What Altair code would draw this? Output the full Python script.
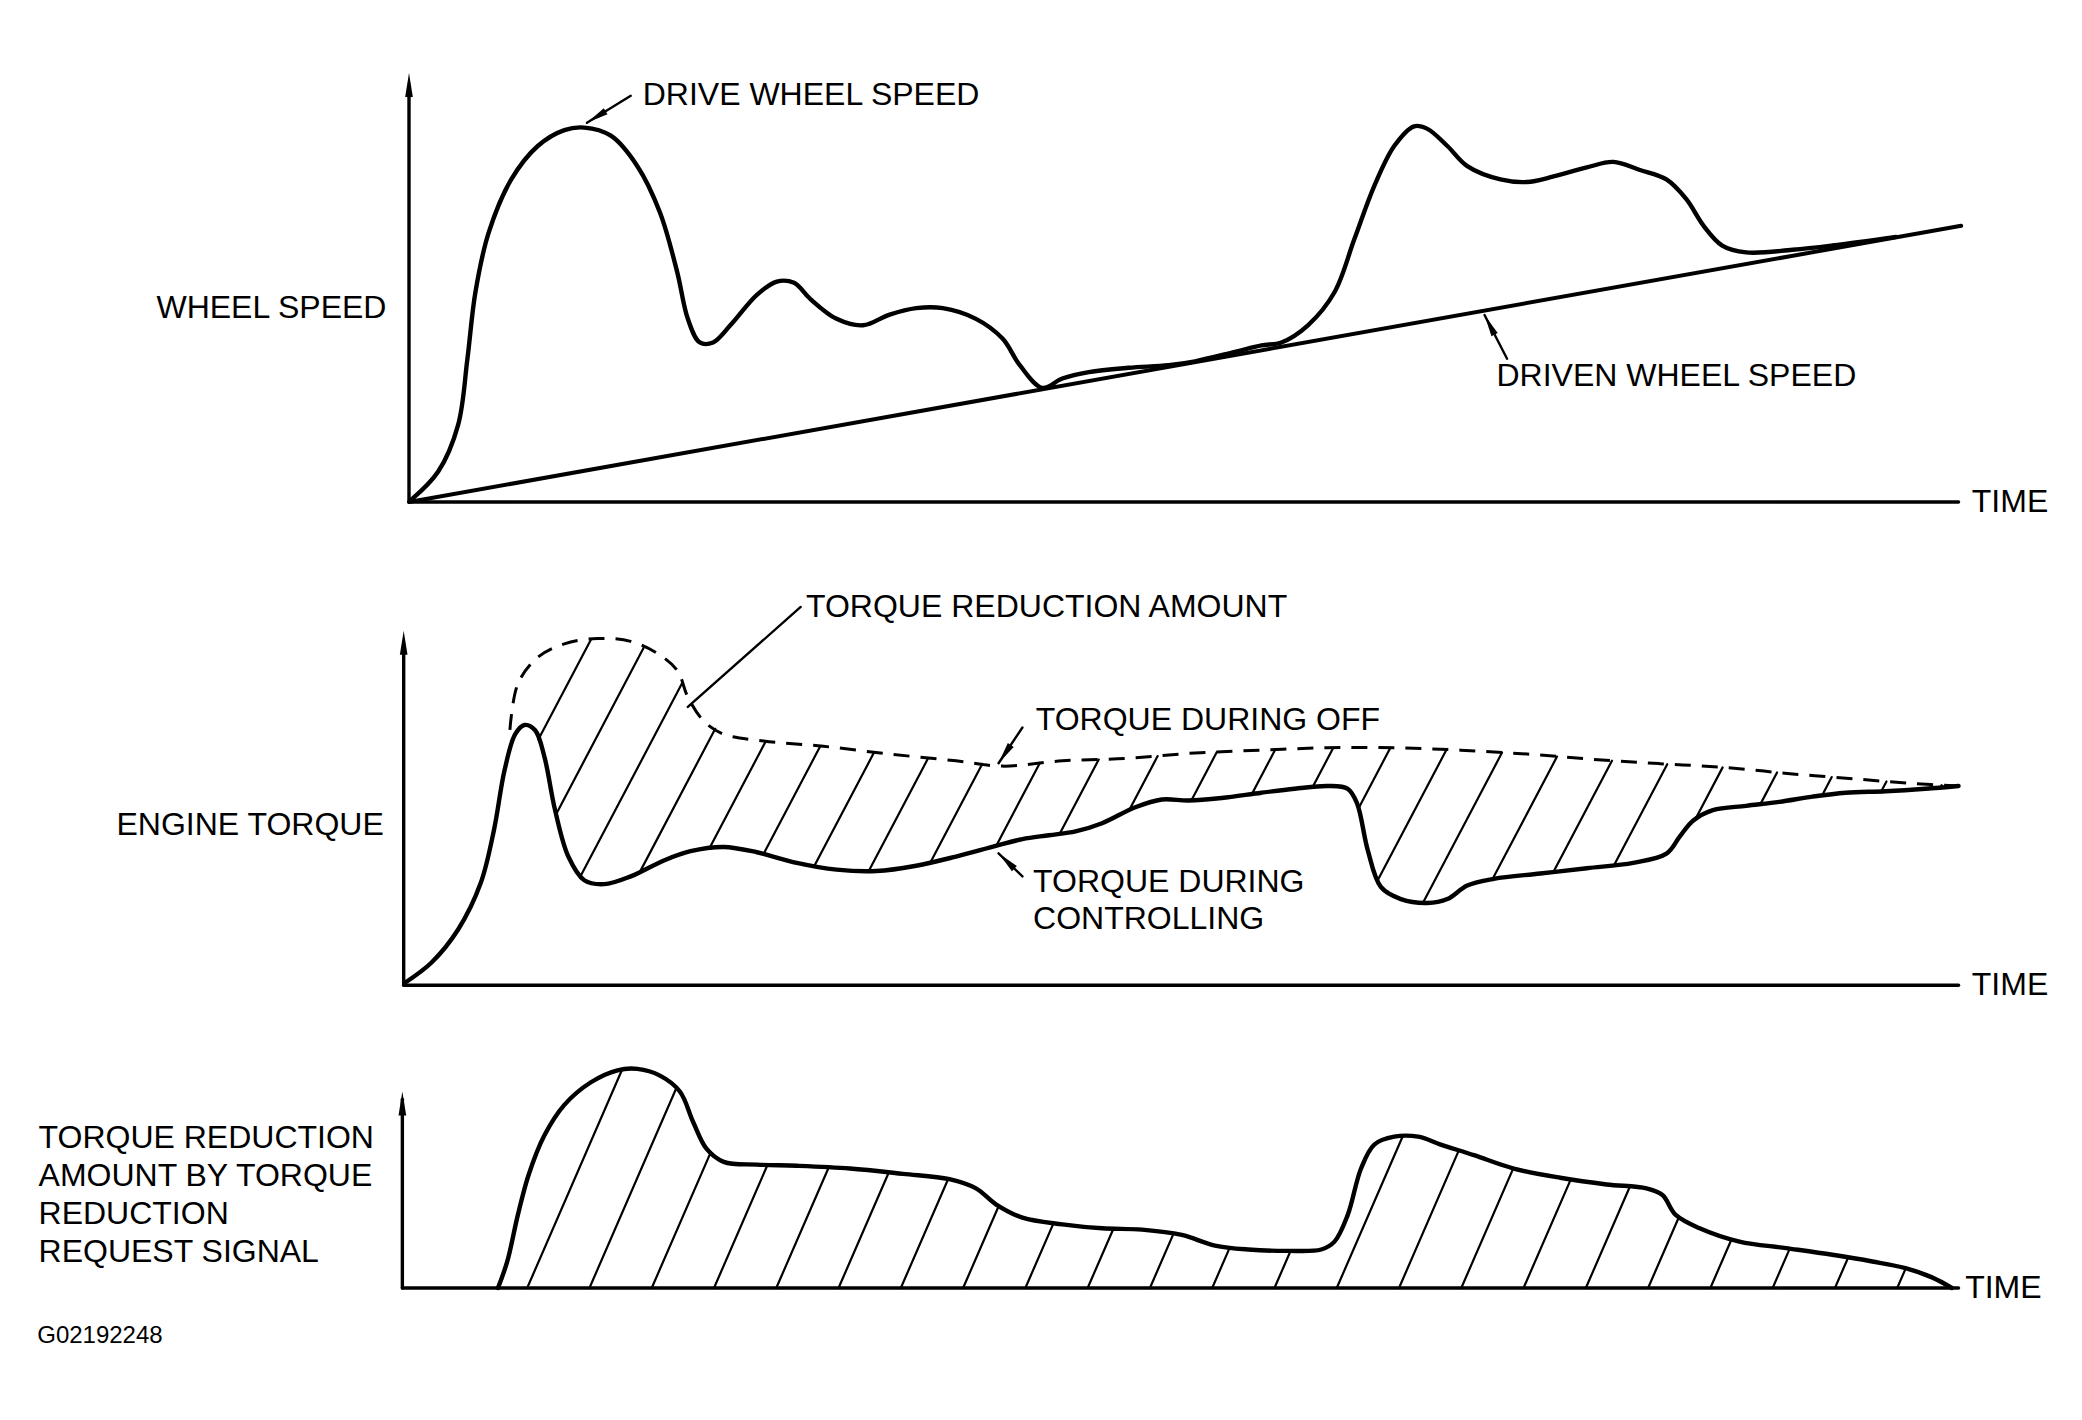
import math
import numpy as np
import pandas as pd
import altair as alt

# ---------------- data (time units, value units: 100 = tip of y-axis arrow) ----------------
drive_t = [0.2, 2.2, 3.7, 4.4, 5.0, 6.0, 7.7, 9.7, 11.7, 13.2, 15.2, 17.2, 18.9, 20.2, 21.0, 21.9, 22.9,
           24.2, 26.2, 27.7, 29.0, 30.2, 32.2, 34.2, 36.2, 38.2, 40.2, 42.7, 44.7, 46.0, 47.7, 49.2, 51.2,
           54.2, 57.2, 59.2, 62.2, 64.2, 65.7, 67.7, 69.7, 71.2, 72.7, 74.2, 75.7, 76.7, 78.2, 79.7, 82.2,
           84.2, 86.2, 88.7, 90.7, 92.7, 94.7, 96.2, 97.5, 98.9, 100.7, 104.2, 107.2, 112.0]
drive_v = [0.6, 7.1, 18.0, 33.4, 48.9, 62.8, 75.2, 83.0, 86.7, 87.3, 85.4, 78.3, 67.5, 53.6, 42.7, 37.2, 37.2,
           41.2, 48.3, 51.4, 51.1, 47.4, 42.7, 41.2, 43.7, 45.2, 45.2, 42.7, 38.1, 31.9, 26.6, 28.8, 30.3,
           31.3, 31.9, 32.8, 35.0, 36.5, 37.2, 41.2, 48.9, 61.3, 73.7, 83.0, 87.6, 87.0, 83.0, 78.3, 75.2,
           74.6, 75.9, 78.0, 79.3, 77.4, 75.2, 70.6, 64.4, 59.8, 58.2, 58.8, 59.8, 61.8]
driven_t = [0.0, 116.9]
driven_v = [0.0, 64.4]

ctrl_t = [-0.3, 1.7, 3.7, 5.4, 6.4, 7.2, 8.0, 8.7, 9.5, 10.2, 11.0, 12.0, 13.2, 14.7, 16.7, 19.2, 21.2,
          23.7, 26.2, 29.2, 32.2, 35.2, 38.2, 41.2, 44.2, 46.2, 48.2, 50.2, 52.2, 54.7, 56.7, 58.7, 61.2,
          64.2, 66.7, 69.2, 70.7, 71.4, 72.2, 73.2, 74.7, 76.7, 78.2, 79.7, 81.7, 85.2, 88.7, 92.2, 94.7,
          95.7, 96.7, 98.2, 100.7, 103.2, 105.7, 108.2, 111.2, 114.2, 116.7]
ctrl_v = [0.7, 6.4, 15.7, 28.8, 43.8, 60.7, 70.8, 73.4, 71.9, 64.4, 49.4, 36.3, 29.6, 28.5, 30.7, 35.2, 37.8,
          39.0, 37.5, 34.5, 32.6, 32.2, 33.7, 36.3, 39.3, 41.2, 42.3, 43.4, 45.7, 50.2, 52.4, 52.1, 52.8,
          54.3, 55.4, 56.2, 55.4, 51.3, 38.2, 27.7, 24.3, 23.2, 24.3, 28.1, 30.0, 31.5, 33.0, 34.5, 37.1,
          41.9, 46.4, 49.4, 50.6, 51.7, 53.2, 54.3, 54.7, 55.4, 56.2]

off_t = [7.6, 8.2, 9.7, 11.7, 14.2, 16.7, 18.7, 20.2, 21.0, 22.2, 23.7, 26.7, 31.2, 36.2, 41.2, 44.7, 49.2,
         54.2, 59.2, 64.2, 69.2, 74.2, 79.2, 84.2, 89.2, 94.2, 99.2, 104.2, 109.2, 113.2, 116.7]
off_v = [72.0, 85.0, 92.5, 96.3, 97.8, 97.0, 93.6, 88.8, 81.3, 74.5, 70.8, 68.9, 67.4, 65.2, 63.3, 61.8, 63.3,
         64.0, 65.5, 66.3, 67.0, 67.0, 66.3, 65.2, 63.7, 62.5, 61.4, 59.6, 58.1, 56.9, 56.2]

red_t = [6.7, 7.4, 8.2, 9.0, 10.2, 11.7, 13.7, 15.7, 17.2, 18.9, 20.4, 21.4, 22.4, 23.7, 26.2, 29.2, 33.2,
         37.2, 40.7, 42.7, 44.2, 46.2, 49.2, 52.2, 55.2, 58.2, 60.7, 63.2, 66.2, 68.7, 69.7, 70.7, 71.7,
         72.7, 74.2, 76.0, 77.7, 80.2, 83.2, 86.7, 90.2, 93.2, 94.4, 95.4, 97.2, 100.2, 103.7, 107.2, 110.2,
         112.7, 114.7, 116.2]
red_v = [0.0, 13.5, 37.2, 57.4, 77.7, 93.2, 104.7, 110.8, 111.5, 108.1, 100.0, 84.5, 70.9, 64.2, 62.8, 62.2,
         60.8, 58.1, 55.4, 50.7, 42.6, 35.8, 32.4, 30.4, 29.7, 27.0, 21.6, 19.6, 18.9, 19.6, 23.6, 37.2, 60.8,
         73.0, 77.0, 77.0, 73.0, 67.6, 60.8, 56.1, 52.7, 50.7, 47.3, 37.2, 30.4, 23.6, 20.3, 16.9, 13.5, 10.1,
         5.4, 0.0]

AXIS_END_T = 116.7

# ---------------- layout ----------------
PANEL_W = 2066
T0_PX = 401.0          # where t = 0 sits inside the chart
PX_PER_T = 13.278
XLO = -T0_PX / PX_PER_T
XHI = XLO + PANEL_W / PX_PER_T
XS = alt.Scale(domain=[XLO, XHI], nice=False, zero=False)

P1 = dict(top=8, h=552, base=502.0, ppv=4.289)
P2 = dict(top=560, h=450, base=985.2, ppv=3.545)
P3 = dict(top=1010, h=402, base=1288.0, ppv=1.965)

FONT = "Liberation Sans, Arial, Helvetica"
FS = 32
ARROW = "M0,-1L0.32,1L-0.32,1Z"


def yscale(p):
    lo = -(p["top"] + p["h"] - p["base"]) / p["ppv"]
    hi = (p["base"] - p["top"]) / p["ppv"]
    return alt.Scale(domain=[lo, hi], nice=False, zero=False)


def X(f="t"):
    return alt.X(f"{f}:Q", scale=XS, axis=None)


def Y(p, f="v"):
    return alt.Y(f"{f}:Q", scale=yscale(p), axis=None)


def curve(ts, vs, p, width=4.4, dash=None):
    df = pd.DataFrame({"t": ts, "v": vs, "i": range(len(ts))})
    kw = dict(interpolate="catmull-rom", color="black", strokeWidth=width, strokeCap="round",
              strokeJoin="round")
    if dash:
        kw["strokeDash"] = dash
        kw["strokeCap"] = "butt"
    return alt.Chart(df).mark_line(**kw).encode(x=X(), y=Y(p), order="i:Q")


def segs(rows, p, width=2.2):
    df = pd.DataFrame(rows, columns=["t", "v", "t2", "v2"])
    return alt.Chart(df).mark_rule(color="black", strokeWidth=width, strokeCap="round").encode(
        x=X(), y=Y(p), x2=alt.X2("t2:Q"), y2=alt.Y2("v2:Q"))


def heads(items, p, L=22):
    rows = []
    for (tf, vf, tt, vt) in items:
        dx = (tt - tf) * PX_PER_T
        dy = -(vt - vf) * p["ppv"]
        n = math.hypot(dx, dy)
        ux, uy = dx / n, dy / n
        ang = math.degrees(math.atan2(ux, -uy)) % 360
        tc = tt - ux * L / 2 / PX_PER_T
        vc = vt + uy * L / 2 / p["ppv"]
        rows.append((tc, vc, ang))
    df = pd.DataFrame(rows, columns=["t", "v", "ang"])
    return alt.Chart(df).mark_point(shape=ARROW, filled=True, color="black", opacity=1,
                                    size=L * L, strokeWidth=0).encode(
        x=X(), y=Y(p), angle=alt.Angle("ang:Q", scale=None))


def texts(labels, ts, vs, p, align="left", size=FS):
    df = pd.DataFrame({"t": ts, "v": vs, "label": labels})
    return alt.Chart(df).mark_text(align=align, baseline="middle", font=FONT, fontSize=size,
                                   color="black").encode(x=X(), y=Y(p), text="label:N")


def hatch(lo_fn, hi_fn, tmin, tmax, t_start, spacing, slope_px, p, vmax):
    m = slope_px * PX_PER_T / p["ppv"]
    vs = np.linspace(0, vmax, 3000)
    rows = []
    t0 = t_start - math.ceil(vmax / m / spacing + 2) * spacing
    while t0 <= tmax:
        ts = t0 + vs / m
        ok = (ts >= tmin) & (ts <= tmax)
        ok &= (vs >= lo_fn(ts)) & (vs <= hi_fn(ts))
        idx = np.flatnonzero(ok)
        if idx.size:
            runs = np.split(idx, np.flatnonzero(np.diff(idx) > 1) + 1)
            for r in runs:
                if r.size > 3:
                    rows.append((ts[r[0]], vs[r[0]], ts[r[-1]], vs[r[-1]]))
        t0 += spacing
    return segs(rows, p, width=2.2)


def axes(p, t_axis):
    return [
        segs([(t_axis, 0, t_axis, 96), (t_axis, 0, AXIS_END_T, 0)], p, width=3.4),
        heads([(t_axis, 90, t_axis, 100)], p, L=24),
    ]


# ---------------- panel 1 ----------------
p1_layers = axes(P1, 0.0) + [
    curve(driven_t, driven_v, P1, width=4.0),
    curve(drive_t, drive_v, P1, width=4.4),
    segs([(16.7, 94.7, 13.4, 88.4), (82.7, 33.4, 81.0, 43.6)], P1, width=2.4),
    heads([(16.7, 94.7, 13.4, 88.4), (82.7, 33.4, 81.0, 43.6)], P1, L=22),
    texts(["DRIVE WHEEL SPEED", "DRIVEN WHEEL SPEED", "TIME"], [17.6, 81.9, 117.7], [95.0, 29.4, 0.0], P1),
    texts(["WHEEL SPEED"], [-1.7], [45.2], P1, align="right"),
]
panel1 = alt.layer(*p1_layers).properties(width=PANEL_W, height=P1["h"])

# ---------------- panel 2 ----------------
lo2 = lambda t: np.interp(t, ctrl_t, ctrl_v)
hi2 = lambda t: np.interp(t, off_t, off_v)
p2_layers = axes(P2, -0.4) + [
    hatch(lo2, hi2, off_t[0], off_t[-1], 21.5, 4.3, 1.9, P2, 105),
    curve(off_t, off_v, P2, width=3.0, dash=[16, 11]),
    curve(ctrl_t, ctrl_v, P2, width=4.4),
    segs([(29.5, 106.7, 21.0, 78.5), (46.2, 72.7, 44.4, 62.6), (46.2, 30.7, 44.4, 37.2)], P2, width=2.4),
    heads([(46.2, 72.7, 44.4, 62.6), (46.2, 30.7, 44.4, 37.2)], P2, L=22),
    texts(["TORQUE REDUCTION AMOUNT", "TORQUE DURING OFF", "TORQUE DURING", "CONTROLLING", "TIME"],
          [29.9, 47.2, 47.0, 47.0, 117.7], [106.7, 74.9, 29.2, 18.7, 0.0], P2),
    texts(["ENGINE TORQUE"], [-1.9], [45.3], P2, align="right"),
]
panel2 = alt.layer(*p2_layers).properties(width=PANEL_W, height=P2["h"])

# ---------------- panel 3 ----------------
lo3 = lambda t: np.zeros_like(t)
hi3 = lambda t: np.interp(t, red_t, red_v)
p3_layers = axes(P3, -0.5) + [
    hatch(lo3, hi3, red_t[0], red_t[-1], 8.9, 4.69, 2.3, P3, 115),
    curve(red_t, red_v, P3, width=4.4),
    texts(["TORQUE REDUCTION", "AMOUNT BY TORQUE", "REDUCTION", "REQUEST SIGNAL", "TIME"],
          [-27.9, -27.9, -27.9, -27.9, 117.2], [76.4, 56.8, 37.8, 18.2, 0.0], P3),
    texts(["G02192248"], [-28.0], [-24.5], P3, size=24),
]
panel3 = alt.layer(*p3_layers).properties(width=PANEL_W, height=P3["h"])

chart = alt.vconcat(panel1, panel2, panel3, spacing=0).properties(
    padding=0, background="white"
).configure_view(stroke=None)

chart.save("out.html", embed_options={"renderer": "svg", "actions": False})
